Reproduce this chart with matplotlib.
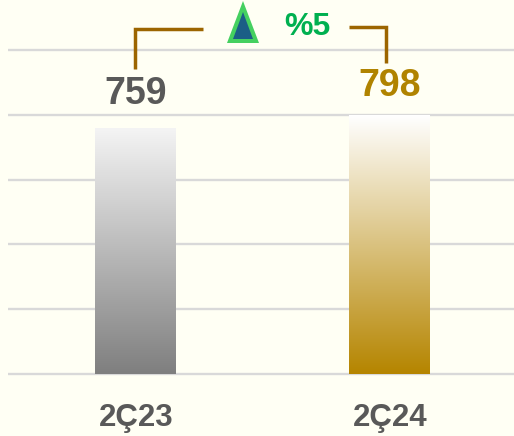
import numpy as np
import matplotlib
matplotlib.use("Agg")
import matplotlib.pyplot as plt
from matplotlib.colors import LinearSegmentedColormap
from matplotlib.patches import Polygon
from matplotlib.lines import Line2D

categories = ["2Ç23", "2Ç24"]
values = [759, 798]
value_colors = ["#595959", "#B08300"]
gradients = [("#F4F4F4", "#7F7F7F"), ("#FFFFFF", "#B58500")]
change_label = "%5"
yticks = [0, 200, 400, 600, 800, 1000]

W, H = 514, 436
BG = "#FFFFF4"
plt.rcParams["font.family"] = ["Liberation Sans", "DejaVu Sans"]

fig = plt.figure(figsize=(W / 100, H / 100), dpi=100, facecolor=BG)
ax = fig.add_axes([8 / W, (H - 374) / H, 508 / W, 324 / H], facecolor=BG)
for s in ax.spines.values():
    s.set_visible(False)
ax.tick_params(left=False, bottom=False, labelleft=False, labelbottom=False)
ax.set_yticks(yticks)
ax.set_xticks(range(len(categories)))
ax.grid(axis="y", color="#D9D9D9", lw=1.7, zorder=0, clip_on=False)
ax.set_axisbelow(True)

bar_w = 0.316
grad = np.linspace(0, 1, 256).reshape(-1, 1)
for i, val in enumerate(values):
    cmap = LinearSegmentedColormap.from_list(f"g{i}", gradients[i])
    ax.imshow(grad, cmap=cmap, aspect="auto", zorder=2, interpolation="bilinear",
              extent=(i - bar_w / 2 + 0.002, i + bar_w / 2 + 0.002, 0, val))
ax.set_xlim(-0.5, 1.5)
ax.set_ylim(0, 1000)
for gl in ax.get_ygridlines():
    gl.set_clip_on(False)
    gl.set_solid_capstyle("butt")

px = lambda x, y: (x / W, 1 - y / H)
label_xy = [(135.5, 104), (390, 96)]
for i, val in enumerate(values):
    x, y = px(*label_xy[i])
    fig.text(x, y, str(val), ha="center", va="baseline", color=value_colors[i],
             fontsize=27, fontweight="bold")
for i, cat in enumerate(categories):
    x, y = px(136 + 254 * i, 426)
    fig.text(x, y, cat, ha="center", va="baseline", color="#595959",
             fontsize=22.5, fontweight="bold")
x, y = px(307.5, 35)
fig.text(x, y, change_label, ha="center", va="baseline", color="#00B050",
         fontsize=23, fontweight="bold")

line_c = "#9C6500"
for pts in ([(135, 69), (135, 29), (203, 29)], [(349, 27), (386, 27), (386, 63)]):
    xs, ys = zip(*[px(*p) for p in pts])
    fig.add_artist(Line2D(xs, ys, color=line_c, lw=2.5, solid_joinstyle="miter",
                          solid_capstyle="butt"))

fig.add_artist(Polygon([px(243, 1), px(227, 43), px(259, 43)], closed=True,
                       facecolor="#45D060", edgecolor="none",
                       transform=fig.transFigure))
fig.add_artist(Polygon([px(243, 12), px(233, 39), px(253, 39)], closed=True,
                       facecolor="#1B5E86", edgecolor="none",
                       transform=fig.transFigure))

fig.savefig("out.png", dpi=100, facecolor=BG)
